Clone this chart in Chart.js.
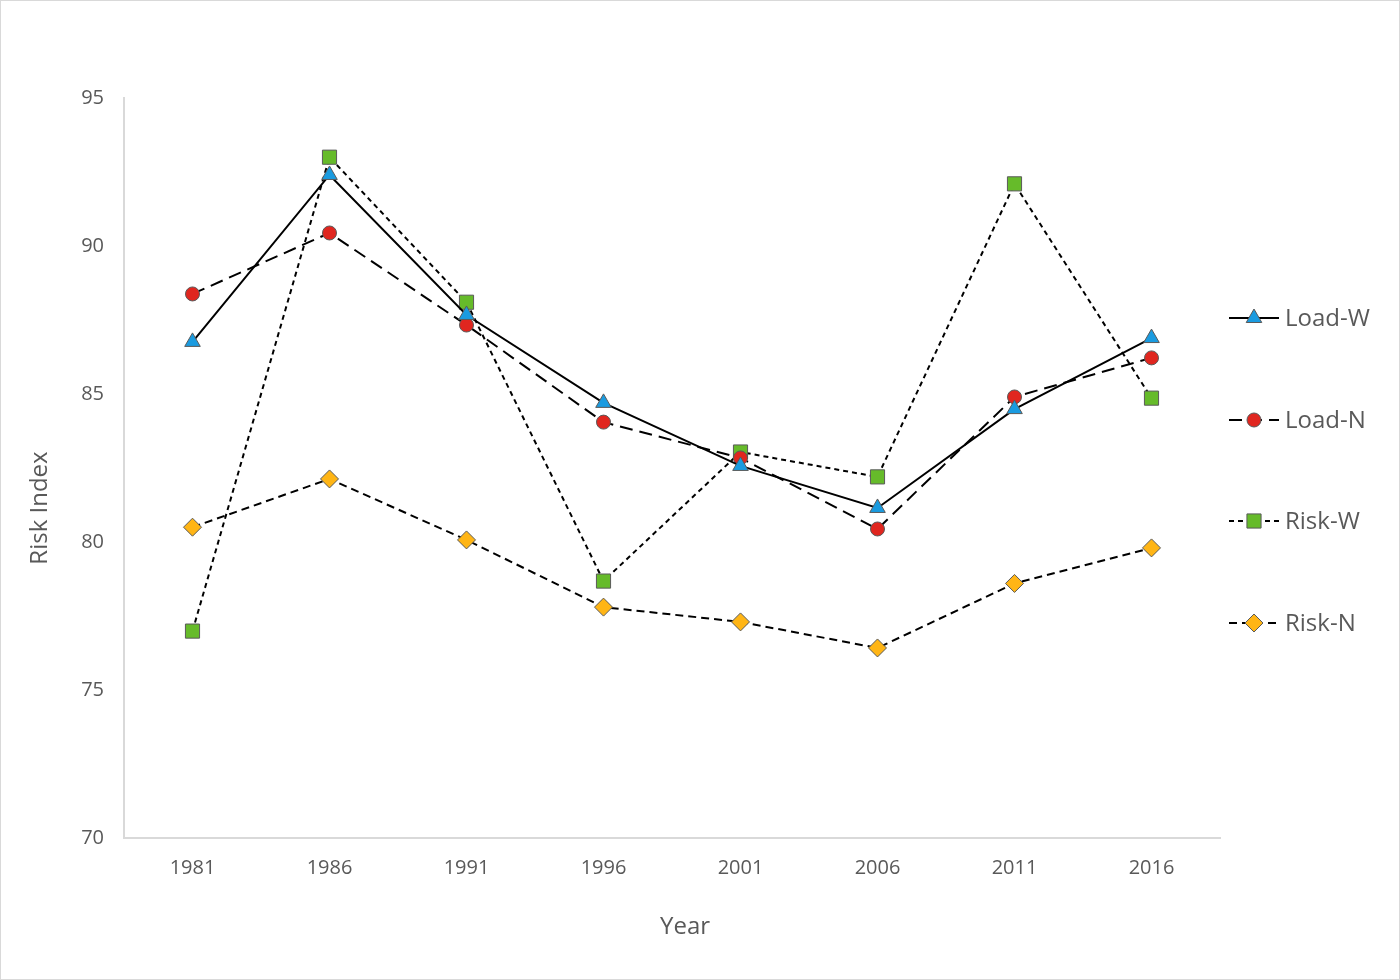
<!DOCTYPE html>
<html>
<head>
<meta charset="utf-8">
<script src="https://cdn.jsdelivr.net/npm/chart.js@4"></script>
<style>
  body { margin: 0; background: #fff; }
  canvas { display: block; }
</style>
</head>
<body>
<canvas id="chart" width="1400" height="980"></canvas>
<script>
const years = ['1981', '1986', '1991', '1996', '2001', '2006', '2011', '2016']
const loadW = [86.76, 92.4, 87.67, 84.7, 82.57, 81.15, 84.49, 86.89]
const loadN = [88.38, 90.44, 87.33, 84.05, 82.84, 80.44, 84.9, 86.22]
const riskW = [76.99, 93.0, 88.1, 78.68, 83.04, 82.2, 92.1, 84.86]
const riskN = [80.5, 82.13, 80.07, 77.8, 77.3, 76.42, 78.6, 79.8]
const yTicks = [70, 75, 80, 85, 90, 95]

const FONT = "'Open Sans', 'Noto Sans', sans-serif"
const TEXT = '#595959'

// frame round the whole picture, axis titles placed like the original
const framePlugin = {
    id: 'frame',
    beforeDraw(chart) {
        const ctx = chart.ctx
        ctx.save()
        ctx.fillStyle = '#fff'
        ctx.fillRect(0, 0, chart.width, chart.height)
        ctx.strokeStyle = '#d9d9d9'
        ctx.lineWidth = 1
        ctx.strokeRect(0.5, 0.5, chart.width - 1, chart.height - 1)
        ctx.restore()
    },
    afterDraw(chart) {
        const ctx = chart.ctx
        ctx.save()
        ctx.fillStyle = TEXT
        ctx.font = `24px ${FONT}`
        ctx.textAlign = 'center'
        ctx.textBaseline = 'middle'
        ctx.fillText('Year', 685, 927)
        ctx.translate(40, 508)
        ctx.rotate(-Math.PI / 2)
        ctx.fillText('Risk Index', 0, 0)
        ctx.restore()
    }
}

// legend on the right: line sample with the marker in its middle
const sideLegend = {
    id: 'sideLegend',
    afterDraw(chart) {
        const ctx = chart.ctx
        const x0 = chart.chartArea.right + 9
        const rows = [318, 420, 521, 623]
        chart.data.datasets.forEach((ds, i) => {
            const y = rows[i]
            ctx.save()
            ctx.strokeStyle = ds.borderColor
            ctx.lineWidth = ds.borderWidth
            ctx.setLineDash(ds.borderDash || [])
            ctx.beginPath()
            ctx.moveTo(x0, y)
            ctx.lineTo(x0 + 50, y)
            ctx.stroke()
            ctx.setLineDash([])
            ctx.fillStyle = ds.pointBackgroundColor
            ctx.strokeStyle = ds.pointBorderColor
            ctx.lineWidth = 1
            Chart.helpers.drawPoint(ctx, {pointStyle: ds.pointStyle, radius: ds.pointRadius, borderWidth: 1}, x0 + 25, y)
            ctx.fillStyle = TEXT
            ctx.font = `24px ${FONT}`
            ctx.textBaseline = 'middle'
            ctx.textAlign = 'left'
            ctx.fillText(ds.label, x0 + 56, y + 1)
            ctx.restore()
        })
    }
}

function series(label, data, style, radius, fill, dash) {
    return {
        label,
        data,
        borderColor: '#000',
        borderWidth: 2,
        borderDash: dash,
        pointStyle: style,
        pointRadius: radius,
        pointHoverRadius: radius,
        pointBackgroundColor: fill,
        pointBorderColor: '#5a5a5a',
        pointBorderWidth: 1,
        tension: 0
    }
}

new Chart(document.getElementById('chart'), {
    type: 'line',
    data: {
        labels: years,
        datasets: [
            series('Load-W', loadW, 'triangle', 9, '#1a9be0', []),
            series('Load-N', loadN, 'circle', 7, '#e0261f', [13, 7]),
            series('Risk-W', riskW, 'rect', 10, '#66bb2a', [5, 4]),
            series('Risk-N', riskN, 'rectRot', 9, '#ffb515', [8, 5])
        ]
    },
    options: {
        responsive: false,
        animation: false,
        layout: {padding: {left: 0, top: 98, right: 180, bottom: 0}},
        plugins: {
            legend: {display: false},
            tooltip: {enabled: false}
        },
        scales: {
            x: {
                offset: true,
                grid: {display: false, drawTicks: false},
                border: {display: true, color: '#d9d9d9', width: 2},
                ticks: {color: TEXT, font: {family: FONT, size: 20}, padding: 18, maxRotation: 0},
                afterFit(scale) { scale.height = 142 }
            },
            y: {
                min: 70,
                max: 95,
                afterBuildTicks(scale) { scale.ticks = yTicks.map(v => ({value: v})) },
                grid: {display: false, drawTicks: false},
                border: {display: true, color: '#d9d9d9', width: 2},
                ticks: {color: TEXT, font: {family: FONT, size: 20}, padding: 20},
                afterFit(scale) { scale.width = 124 }
            }
        }
    },
    plugins: [framePlugin, sideLegend]
})
</script>
</body>
</html>
